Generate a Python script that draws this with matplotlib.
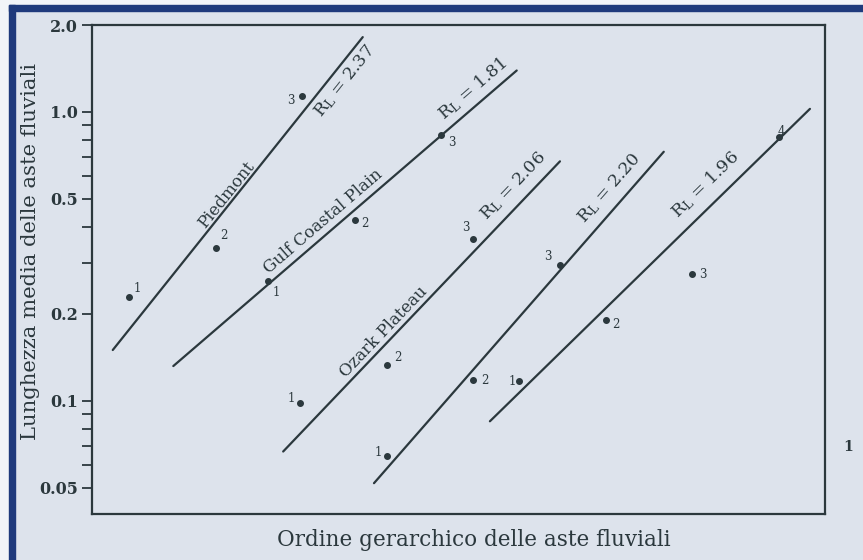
import numpy as np
import matplotlib
matplotlib.use("Agg")
import matplotlib.pyplot as plt
from matplotlib.patches import Rectangle

# --- data -------------------------------------------------------------
region_names = ["Piedmont", "Gulf Coastal Plain", "Ozark Plateau", "", ""]
ratio_text = ["2.37", "1.81", "2.06", "2.20", "1.96"]
length_ratio = [2.37, 1.81, 2.06, 2.20, 1.96]

orders = [[1, 2, 3], [1, 2, 3], [1, 2, 3], [1, 2, 3], [1, 2, 3, 4]]
mean_length = [
    [0.228, 0.339, 1.14],
    [0.259, 0.423, 0.833],
    [0.098, 0.133, 0.364],
    [0.0645, 0.118, 0.296],
    [0.117, 0.190, 0.275, 0.818],
]
# horizontal shift of each region's order axis
order_shift = [-0.57, 1.04, 1.41, 2.41, 3.94]
# fitted Horton lines: extent in order units and mean length at the start
fit_span = [(0.81, 3.70), (-0.10, 3.87), (0.80, 4.00), (0.85, 4.20), (0.66, 4.36)]
fit_start = [0.150, 0.132, 0.0668, 0.0519, 0.085]

ytick_values = [0.05, 0.1, 0.2, 0.5, 1.0, 2.0]
ytick_labels = ["0.05", "0.1", "0.2", "0.5", "1.0", "2.0"]
yminor_values = [0.06, 0.07, 0.08, 0.09, 0.3, 0.4, 0.6, 0.7, 0.8, 0.9]

# --- layout / style ---------------------------------------------------
name_at = [1.63, 2.76, 3.458, None, None]
name_gap = [8, 12, 10, 0, 0]
ratio_at = [2.80, 4.517, 5.008, 6.125, 7.245]
ratio_gap = [-14, 15, 17, 17, 19]
point_label_offsets = [
    [(8, 9), (8, 12), (-11, -5)],
    [(8, -11), (10, -4), (10, -8)],
    [(-9, 5), (11, 8), (-8, 11)],
    [(-9, 3), (11, 0), (-12, 8)],
    [(-7, 0), (10, -4), (11, -1), (3, 6)],
]

ink = "#2b383d"
paper = "#dde3ec"
frame_blue = "#1f3a7c"
serif = "DejaVu Serif"

plt.rcParams["font.family"] = serif
plt.rcParams["mathtext.fontset"] = "dejavuserif"

W, H = 863, 560
fig = plt.figure(figsize=(W / 100, H / 100), dpi=100, facecolor=paper)
ax = fig.add_axes([92 / W, 1 - 514 / H, (825 - 92) / W, (514 - 25) / H])
ax.set_facecolor(paper)

ax.set_yscale("log")
ax.set_xlim(0, 733 / 86.5)
ax.set_ylim(0.0406, 2.0)

for s in ax.spines.values():
    s.set_color(ink)
    s.set_linewidth(1.6)

ax.set_xticks([])
ax.set_yticks(ytick_values)
ax.set_yticklabels(ytick_labels)
ax.set_yticks(yminor_values, minor=True)
ax.yaxis.set_minor_formatter(matplotlib.ticker.NullFormatter())
ax.tick_params(axis="y", which="both", direction="out", length=7, width=1.3,
               color=ink, pad=3)
for lab in ax.get_yticklabels():
    lab.set_fontsize(11.5)
    lab.set_fontweight("bold")
    lab.set_color(ink)


def fit_value(i, x):
    x0 = fit_span[i][0] + order_shift[i]
    return fit_start[i] * length_ratio[i] ** (x - x0)


def line_angle(i):
    xa = fit_span[i][0] + order_shift[i]
    xb = fit_span[i][1] + order_shift[i]
    pa = ax.transData.transform((xa, fit_value(i, xa)))
    pb = ax.transData.transform((xb, fit_value(i, xb)))
    return np.degrees(np.arctan2(pb[1] - pa[1], pb[0] - pa[0]))


for i in range(len(orders)):
    xs = np.array(orders[i]) + order_shift[i]
    ax.plot(xs, mean_length[i], "o", ms=4, color=ink, zorder=3)
    for k, (x, y) in enumerate(zip(xs, mean_length[i])):
        ax.annotate(str(orders[i][k]), (x, y), xytext=point_label_offsets[i][k],
                    textcoords="offset pixels", ha="center", va="center",
                    fontsize=8.5, color=ink)

    xl = np.linspace(fit_span[i][0], fit_span[i][1], 50) + order_shift[i]
    ax.plot(xl, fit_value(i, xl), color=ink, lw=1.6, solid_capstyle="round")

    ang = line_angle(i)
    perp = np.array([-np.sin(np.radians(ang)), np.cos(np.radians(ang))])

    if region_names[i]:
        xn = name_at[i]
        ax.annotate(region_names[i], (xn, fit_value(i, xn)),
                    xytext=perp * name_gap[i], textcoords="offset pixels",
                    ha="center", va="center", rotation=ang,
                    rotation_mode="anchor", fontsize=12, color=ink)

    xr = ratio_at[i]
    ax.annotate(r"R$_\mathrm{L}$ = " + ratio_text[i], (xr, fit_value(i, xr)),
                xytext=perp * ratio_gap[i], textcoords="offset pixels",
                ha="center", va="center", rotation=ang,
                rotation_mode="anchor", fontsize=12.5, color=ink)

fig.text(474 / W, 1 - 540 / H, "Ordine gerarchico delle aste fluviali",
         ha="center", va="center", fontsize=15.5, color=ink)
fig.text(30 / W, 1 - 252 / H, "Lunghezza media delle aste fluviali",
         ha="center", va="center", rotation=90, fontsize=15.2, color=ink)
fig.text(848 / W, 1 - 447 / H, "1", ha="center", va="center",
         fontsize=10, fontweight="bold", color=ink)

# blue frame along the top and left edges
fig.patches.append(Rectangle((9 / W, 0), 6 / W, 1 - 5 / H, transform=fig.transFigure,
                             color=frame_blue, zorder=10))
fig.patches.append(Rectangle((9 / W, 1 - 11 / H), 1 - 9 / W, 6 / H,
                             transform=fig.transFigure, color=frame_blue, zorder=10))
fig.patches.append(Rectangle((0, 0), 9 / W, 1, transform=fig.transFigure,
                             color="#f2f4f8", zorder=9))
fig.patches.append(Rectangle((0, 1 - 5 / H), 1, 5 / H, transform=fig.transFigure,
                             color="#f2f4f8", zorder=9))

fig.savefig("out.png", dpi=100, facecolor=paper)
